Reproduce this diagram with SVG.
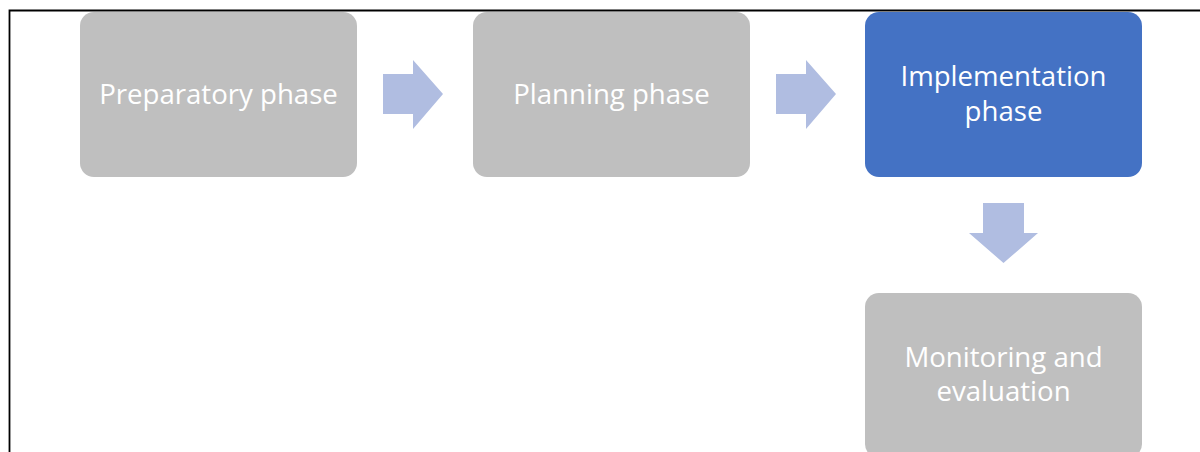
<svg xmlns="http://www.w3.org/2000/svg" width="1200" height="452" viewBox="0 0 1200 452">
  <style>
    .box { stroke: none; }
    .grey { fill: #BFBFBF; }
    .blue { fill: #4472C4; }
    .label { font-family: "Open Sans", "Liberation Sans", sans-serif; font-size: 27.6px; fill: #FFFFFF; text-anchor: middle; }
    .arrow { fill: #B0BDE1; }
    .frame { stroke: #000000; stroke-width: 1.8; fill: none; }
  </style>
  <rect width="1200" height="452" fill="#FFFFFF"/>
  <!-- page frame -->
  <path class="frame" d="M9.5,452 V10.5 H1200"/>

  <g id="node-preparatory">
    <rect class="box grey" x="80" y="12" width="277" height="165" rx="14"/>
    <text class="label" x="218.5" y="104">Preparatory phase</text>
  </g>
  <g id="node-planning">
    <rect class="box grey" x="473" y="12" width="277" height="165" rx="14"/>
    <text class="label" x="611.5" y="104">Planning phase</text>
  </g>
  <g id="node-implementation">
    <rect class="box blue" x="865" y="12" width="277" height="165" rx="14"/>
    <text class="label" x="1003.5" y="86">Implementation</text>
    <text class="label" x="1003.5" y="121">phase</text>
  </g>
  <g id="node-monitoring">
    <rect class="box grey" x="865" y="293" width="277" height="165" rx="14"/>
    <text class="label" x="1003.5" y="367">Monitoring and</text>
    <text class="label" x="1003.5" y="401">evaluation</text>
  </g>

  <g id="connectors">
    <polygon class="arrow" points="383,74 413,74 413,60 443,94 413,129 413,114 383,114"/>
    <polygon class="arrow" points="776,74 806,74 806,60 836,94 806,129 806,114 776,114"/>
    <polygon class="arrow" points="983,203 1024,203 1024,233 1038,233 1003.5,263 969,233 983,233"/>
  </g>
</svg>
